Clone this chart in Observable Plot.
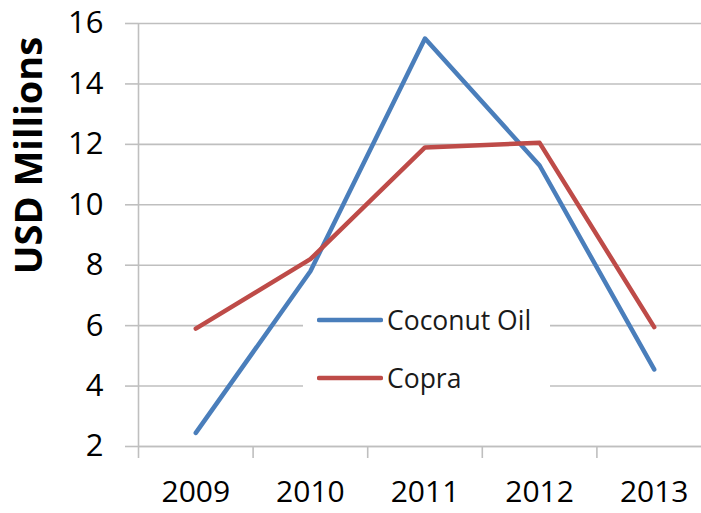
<!DOCTYPE html>
<html>
<head>
<meta charset="utf-8">
<script src="https://cdn.jsdelivr.net/npm/d3@7"></script>
<script src="https://cdn.jsdelivr.net/npm/@observablehq/plot@0.6"></script>
<style>
  html, body { margin: 0; padding: 0; background: #fff; }
  #wrap { position: relative; width: 701px; height: 513px; overflow: hidden; font-family: "Open Sans", sans-serif; }
  #legend { position: absolute; left: 303px; top: 296px; width: 247px; height: 104px; background: #fff; }
  .item { position: absolute; left: 14px; height: 30px; display: flex; align-items: center; }
  .item svg { display: block; }
  .item span { font-size: 26.5px; color: #1a1a1a; margin-left: 4px; line-height: 30px; }
</style>
</head>
<body>
<div id="wrap"></div>
<script>
const years = [2009, 2010, 2011, 2012, 2013];
const coconutOil = [2.45, 7.8, 15.5, 11.3, 4.55];
const copra = [5.9, 8.2, 11.9, 12.05, 5.95];
const seriesNames = ["Coconut Oil", "Copra"];
const seriesColors = ["#4a7ebb", "#be4b48"];
const yTicks = [2, 4, 6, 8, 10, 12, 14, 16];
const yTitle = "USD Millions";

const data = [
  ...years.map((year, i) => ({year, value: coconutOil[i], series: seriesNames[0]})),
  ...years.map((year, i) => ({year, value: copra[i], series: seriesNames[1]}))
];
const boundaries = [...years.map(y => y - 0.5), years[years.length - 1] + 0.5];
const grid = "#bfbfbf";

const chart = Plot.plot({
  width: 701,
  height: 513,
  marginLeft: 138,
  marginRight: 0,
  marginTop: 23,
  marginBottom: 67,
  style: {fontFamily: "Open Sans, sans-serif", fontSize: "31px", color: "#000", background: "#fff"},
  x: {type: "linear", domain: [boundaries[0], boundaries[boundaries.length - 1]], range: [138, 711]},
  y: {domain: [2, 16]},
  color: {domain: seriesNames, range: seriesColors},
  marks: [
    Plot.gridY(yTicks, {stroke: grid, strokeOpacity: 1, strokeWidth: 1.6}),
    Plot.axisY(yTicks, {tickSize: 13, tickPadding: 22, stroke: grid, strokeWidth: 1.6, label: null, fontSize: 31}),
    Plot.axisX(boundaries, {tickSize: 12, tickFormat: () => "", stroke: grid, strokeWidth: 1.6, label: null}),
    Plot.axisX(years, {tickSize: 0, tickPadding: 34, tickFormat: d => String(d), label: null, fontSize: 30}),
    Plot.ruleY([2], {stroke: grid, strokeWidth: 1.6}),
    Plot.ruleX([boundaries[0]], {stroke: grid, strokeWidth: 1.6}),
    Plot.text([yTitle], {frameAnchor: "top-left", dx: -109, dy: 132, rotate: -90, fontWeight: "bold", fontSize: 38, textAnchor: "middle", lineAnchor: "middle", fill: "#000"}),
    Plot.line(data, {x: "year", y: "value", stroke: "series", z: "series", strokeWidth: 4.5, strokeLinecap: "round", strokeLinejoin: "round"})
  ]
});
document.getElementById("wrap").appendChild(chart);

const legend = document.createElement("div");
legend.id = "legend";
const rowTops = [9, 67];
seriesNames.forEach((name, i) => {
  const item = document.createElement("div");
  item.className = "item";
  item.style.top = rowTops[i] + "px";
  item.innerHTML = `<svg width="66" height="10"><line x1="2" y1="5" x2="64" y2="5" stroke="${seriesColors[i]}" stroke-width="4.5" stroke-linecap="round"/></svg><span>${name}</span>`;
  legend.appendChild(item);
});
document.getElementById("wrap").appendChild(legend);
</script>
</body>
</html>
